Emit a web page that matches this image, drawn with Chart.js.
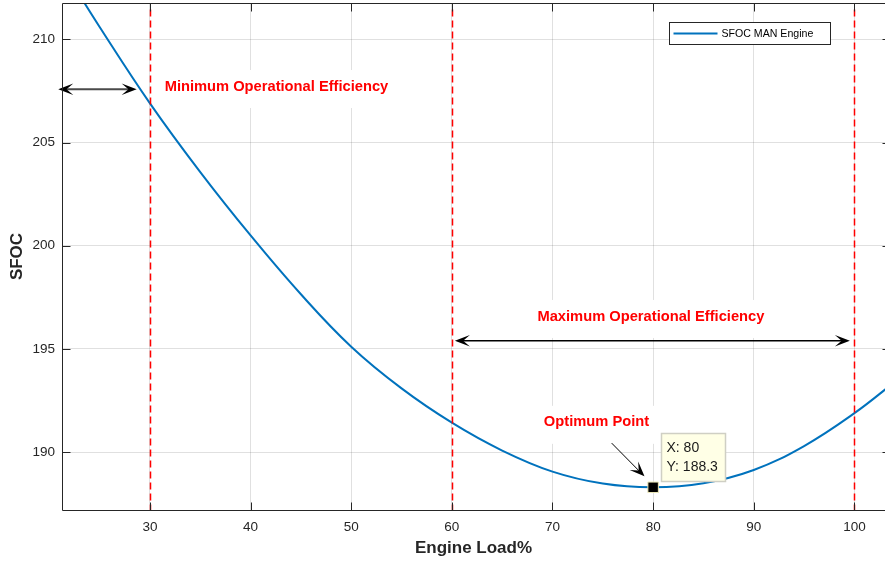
<!DOCTYPE html>
<html><head><meta charset="utf-8">
<script src="https://cdn.jsdelivr.net/npm/chart.js@4.4.1/dist/chart.umd.min.js"></script>
<style>html,body{margin:0;padding:0;background:#fff;overflow:hidden}#wrap{width:885px;height:562px}</style>
</head><body><div id="wrap"><canvas id="c" width="885" height="562"></canvas></div>
<script>
// ---- data ----
const engineLoad = [22, 25, 30, 35, 40, 45, 50, 55, 60, 65, 70, 75, 80, 85, 90, 95, 100, 104];
const sfocValues = [212.93, 210.6, 206.9, 203.57, 200.5, 197.65, 195.11, 193.09, 191.43, 190.08, 189.06, 188.48, 188.3, 188.5, 189.14, 190.3, 191.89, 193.4];
const xTickValues = [30, 40, 50, 60, 70, 80, 90, 100];
const yTickValues = [190, 195, 200, 205, 210];
const referenceLoads = [30, 60, 100];
const optimumLoad = [80];
const optimumSfoc = [188.3];
const seriesLabel = 'SFOC MAN Engine';
const xTitle = 'Engine Load%';
const yTitle = 'SFOC';
const noteTexts = ['Minimum Operational Efficiency', 'Maximum Operational Efficiency', 'Optimum Point'];

// ---- layout / annotation placement (data units) ----
const cfg = {
  xRange: [21.26, 103.04],
  yRange: [187.2, 211.76],
  refTop: 211.45,
  notes: [{i: 0, x: 42.57, y: 207.74}, {i: 1, x: 79.78, y: 196.6}, {i: 2, x: 74.37, y: 191.47}],
  doubleArrows: [
    {x1: 20.89, x2: 28.68, y: 207.58, color: '#4a4a4a', w: 2},
    {x1: 60.3, x2: 99.55, y: 195.40, color: '#000', w: 1.5}
  ],
  pointer: {x1: 75.88, y1: 190.44, x2: 79.14, y2: 188.83}
};
const FONT = '"Liberation Sans", Arial, Helvetica, sans-serif';
const AX = '#262626';
Chart.defaults.font.family = FONT;

function arrowHead(ctx, tx, ty, ang, L, W, color) {
  const dx = Math.cos(ang), dy = Math.sin(ang);
  const px = -dy, py = dx;
  ctx.beginPath();
  ctx.moveTo(tx, ty);
  ctx.lineTo(tx - L * dx + W * px, ty - L * dy + W * py);
  ctx.lineTo(tx - 0.55 * L * dx, ty - 0.55 * L * dy);
  ctx.lineTo(tx - L * dx - W * px, ty - L * dy - W * py);
  ctx.closePath();
  ctx.fillStyle = color;
  ctx.fill();
}

const decor = {
  id: 'decor',
  beforeDatasetsDraw(chart) {
    const {ctx, scales: {x, y}} = chart;
    ctx.save();
    ctx.font = 'bold 14.7px ' + FONT;
    ctx.textAlign = 'center';
    ctx.textBaseline = 'middle';
    cfg.notes.forEach(n => {
      const t = noteTexts[n.i];
      const cx = x.getPixelForValue(n.x), cy = y.getPixelForValue(n.y);
      const w = ctx.measureText(t).width;
      ctx.fillStyle = '#fff';
      ctx.fillRect(cx - w / 2 - 6, cy - 16, w + 12, 38);
      ctx.fillStyle = '#ff0000';
      ctx.fillText(t, cx, cy + 0.5);
    });
    ctx.restore();
  },
  afterDatasetsDraw(chart) {
    const {ctx, chartArea: ca, scales: {x, y}} = chart;
    ctx.save();
    ctx.beginPath();
    ctx.rect(ca.left, ca.top, ca.right - ca.left, ca.bottom - ca.top);
    ctx.clip();
    ctx.strokeStyle = '#ff0000';
    ctx.lineWidth = 1.5;
    ctx.setLineDash([7, 4]);
    referenceLoads.forEach(v => {
      const px = Math.round(x.getPixelForValue(v)) + 0.5;
      ctx.beginPath();
      ctx.moveTo(px, y.getPixelForValue(cfg.refTop));
      ctx.lineTo(px, ca.bottom);
      ctx.stroke();
    });
    ctx.setLineDash([]);
    ctx.restore();
    ctx.save();
    cfg.doubleArrows.forEach(a => {
      const x1 = x.getPixelForValue(a.x1), x2 = x.getPixelForValue(a.x2), py = y.getPixelForValue(a.y);
      ctx.strokeStyle = a.color; ctx.lineWidth = a.w;
      ctx.beginPath(); ctx.moveTo(x1 + 6, py); ctx.lineTo(x2 - 6, py); ctx.stroke();
      arrowHead(ctx, x1, py, Math.PI, 15, 5.8, '#000');
      arrowHead(ctx, x2, py, 0, 15, 5.8, '#000');
    });
    const p = cfg.pointer;
    const ax1 = x.getPixelForValue(p.x1), ay1 = y.getPixelForValue(p.y1);
    const ax2 = x.getPixelForValue(p.x2), ay2 = y.getPixelForValue(p.y2);
    const ang = Math.atan2(ay2 - ay1, ax2 - ax1);
    ctx.strokeStyle = '#000'; ctx.lineWidth = 1;
    ctx.beginPath(); ctx.moveTo(ax1, ay1); ctx.lineTo(ax2 - 6 * Math.cos(ang), ay2 - 6 * Math.sin(ang)); ctx.stroke();
    arrowHead(ctx, ax2, ay2, ang, 15, 6, '#000');
    const L = ca.left + 0.5, R = ca.right + 0.5, T = Math.round(ca.top) + 0.5, B = ca.bottom + 0.5;
    ctx.strokeStyle = AX; ctx.lineWidth = 1;
    ctx.beginPath();
    ctx.moveTo(L, T); ctx.lineTo(R, T); ctx.moveTo(L, T); ctx.lineTo(L, B); ctx.lineTo(R, B);
    xTickValues.forEach(v => {
      const px = Math.round(x.getPixelForValue(v)) + 0.5;
      ctx.moveTo(px, B); ctx.lineTo(px, B - 8);
      ctx.moveTo(px, T); ctx.lineTo(px, T + 8);
    });
    yTickValues.forEach(v => {
      const py = Math.round(y.getPixelForValue(v)) + 0.5;
      ctx.moveTo(L, py); ctx.lineTo(L + 8, py);
      ctx.moveTo(R, py); ctx.lineTo(R - 3, py);
    });
    ctx.stroke();
    ctx.restore();
  },
  afterDraw(chart) {
    const {ctx, chartArea: ca, scales: {x, y}} = chart;
    ctx.save();
    const mx = x.getPixelForValue(optimumLoad[0]), my = y.getPixelForValue(optimumSfoc[0]);
    const bx = Math.round(mx + 7.5) + 0.5, by = Math.round(my - 54) + 0.5;
    ctx.fillStyle = '#ffffe6';
    ctx.fillRect(bx, by, 64, 48);
    ctx.strokeStyle = '#cfcfc4'; ctx.lineWidth = 1.5;
    ctx.strokeRect(bx, by, 64, 48);
    ctx.fillStyle = '#1a1a1a';
    ctx.font = '14px ' + FONT;
    ctx.textAlign = 'left'; ctx.textBaseline = 'middle';
    ctx.fillText('X: ' + optimumLoad[0], bx + 5, by + 15);
    ctx.fillText('Y: ' + optimumSfoc[0].toFixed(1), bx + 5, by + 34);
    const lw = 161, lh = 22;
    const lx = Math.round(ca.right - 55 - lw) + 0.5, ly = Math.round(ca.top + 19) + 0.5;
    ctx.fillStyle = '#fff';
    ctx.fillRect(lx, ly, lw, lh);
    ctx.strokeStyle = AX; ctx.lineWidth = 1;
    ctx.strokeRect(lx, ly, lw, lh);
    const ds = chart.data.datasets[0];
    ctx.strokeStyle = ds.borderColor; ctx.lineWidth = 2;
    ctx.beginPath(); ctx.moveTo(lx + 4, ly + 11); ctx.lineTo(lx + 48, ly + 11); ctx.stroke();
    ctx.fillStyle = '#000';
    ctx.font = '10.6px ' + FONT;
    ctx.fillText(ds.label, lx + 52, ly + 11.5);
    ctx.restore();
  }
};

new Chart(document.getElementById('c'), {
  type: 'line',
  data: {
    datasets: [
      {
        label: seriesLabel,
        data: engineLoad.map((v, i) => ({x: v, y: sfocValues[i]})),
        borderColor: '#0072BD',
        borderWidth: 2,
        pointRadius: 0,
        tension: 0.4,
        fill: false,
        order: 2
      },
      {
        label: 'Optimum',
        data: optimumLoad.map((v, i) => ({x: v, y: optimumSfoc[i]})),
        showLine: false,
        pointStyle: 'rect',
        pointRadius: 7.4,
        backgroundColor: '#000',
        borderColor: '#ece8b8',
        borderWidth: 1,
        order: 1
      }
    ]
  },
  options: {
    responsive: false,
    animation: false,
    devicePixelRatio: 1,
    layout: {autoPadding: false, padding: {top: 3, right: 0, bottom: 0, left: 0}},
    plugins: {legend: {display: false}, tooltip: {enabled: false}},
    scales: {
      x: {
        type: 'linear',
        min: cfg.xRange[0], max: cfg.xRange[1],
        afterBuildTicks: s => { s.ticks = xTickValues.map(v => ({value: v})); },
        afterFit: s => { s.height = 52; s.paddingLeft = 0; s.paddingRight = 0; s.paddingTop = 0; s.paddingBottom = 0; },
        ticks: {color: AX, font: {size: 13.5}, padding: 9, maxRotation: 0, autoSkip: false},
        grid: {color: 'rgba(38,38,38,0.14)', drawTicks: false, lineWidth: 1},
        border: {display: false},
        title: {display: true, text: xTitle, color: AX, font: {size: 17, weight: 'bold'}, padding: {top: 0, bottom: 3}}
      },
      y: {
        type: 'linear',
        min: cfg.yRange[0], max: cfg.yRange[1],
        afterBuildTicks: s => { s.ticks = yTickValues.map(v => ({value: v})); },
        afterFit: s => { s.width = 62; s.paddingLeft = 0; s.paddingRight = 0; s.paddingTop = 0; s.paddingBottom = 0; },
        ticks: {color: AX, font: {size: 13.5}, padding: 7},
        grid: {color: 'rgba(38,38,38,0.14)', drawTicks: false, lineWidth: 1},
        border: {display: false},
        title: {display: true, text: yTitle, color: AX, font: {size: 17, weight: 'bold'}, padding: {top: 7, bottom: 0}}
      }
    }
  },
  plugins: [decor]
});
</script></body></html>
